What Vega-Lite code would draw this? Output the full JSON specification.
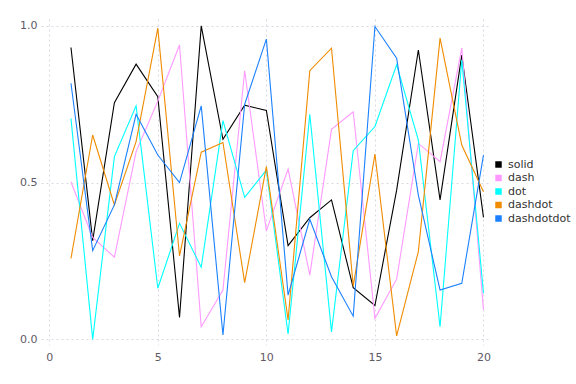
{
  "$schema": "https://vega.github.io/schema/vega-lite/v6.json",
  "width": 449,
  "height": 326,
  "autosize": {"type": "none"},
  "padding": {"left": 41, "top": 19, "right": 86, "bottom": 39},
  "background": "white",
  "config": {
    "view": {"stroke": null},
    "font": "DejaVu Sans",
    "axis": {
      "domain": false,
      "ticks": false,
      "grid": true,
      "gridColor": "#d9d9e3",
      "gridDash": [2, 3],
      "gridWidth": 1,
      "labelColor": "#5f5a66",
      "labelFont": "DejaVu Sans",
      "labelFontSize": 11,
      "title": null
    },
    "legend": {
      "labelFont": "DejaVu Sans",
      "labelFontSize": 11,
      "labelColor": "#333333",
      "symbolType": "square",
      "symbolSize": 42,
      "labelOffset": 4,
      "rowPadding": 1.5
    }
  },
  "data": {
    "values": [
      {"x": 1, "series": "solid", "y": 0.931},
      {"x": 2, "series": "solid", "y": 0.315},
      {"x": 3, "series": "solid", "y": 0.755},
      {"x": 4, "series": "solid", "y": 0.878},
      {"x": 5, "series": "solid", "y": 0.774},
      {"x": 6, "series": "solid", "y": 0.070},
      {"x": 7, "series": "solid", "y": 1.0},
      {"x": 8, "series": "solid", "y": 0.638},
      {"x": 9, "series": "solid", "y": 0.747},
      {"x": 10, "series": "solid", "y": 0.730},
      {"x": 11, "series": "solid", "y": 0.299},
      {"x": 12, "series": "solid", "y": 0.388},
      {"x": 13, "series": "solid", "y": 0.445},
      {"x": 14, "series": "solid", "y": 0.165},
      {"x": 15, "series": "solid", "y": 0.108},
      {"x": 16, "series": "solid", "y": 0.476},
      {"x": 17, "series": "solid", "y": 0.923},
      {"x": 18, "series": "solid", "y": 0.445},
      {"x": 19, "series": "solid", "y": 0.907},
      {"x": 20, "series": "solid", "y": 0.389},
      {"x": 1, "series": "dash", "y": 0.502},
      {"x": 2, "series": "dash", "y": 0.325},
      {"x": 3, "series": "dash", "y": 0.262},
      {"x": 4, "series": "dash", "y": 0.599},
      {"x": 5, "series": "dash", "y": 0.76},
      {"x": 6, "series": "dash", "y": 0.939},
      {"x": 7, "series": "dash", "y": 0.040},
      {"x": 8, "series": "dash", "y": 0.157},
      {"x": 9, "series": "dash", "y": 0.857},
      {"x": 10, "series": "dash", "y": 0.346},
      {"x": 11, "series": "dash", "y": 0.543},
      {"x": 12, "series": "dash", "y": 0.205},
      {"x": 13, "series": "dash", "y": 0.670},
      {"x": 14, "series": "dash", "y": 0.726},
      {"x": 15, "series": "dash", "y": 0.067},
      {"x": 16, "series": "dash", "y": 0.192},
      {"x": 17, "series": "dash", "y": 0.625},
      {"x": 18, "series": "dash", "y": 0.567},
      {"x": 19, "series": "dash", "y": 0.929},
      {"x": 20, "series": "dash", "y": 0.094},
      {"x": 1, "series": "dot", "y": 0.705},
      {"x": 2, "series": "dot", "y": 0.0},
      {"x": 3, "series": "dot", "y": 0.583},
      {"x": 4, "series": "dot", "y": 0.745},
      {"x": 5, "series": "dot", "y": 0.163},
      {"x": 6, "series": "dot", "y": 0.370},
      {"x": 7, "series": "dot", "y": 0.230},
      {"x": 8, "series": "dot", "y": 0.698},
      {"x": 9, "series": "dot", "y": 0.453},
      {"x": 10, "series": "dot", "y": 0.540},
      {"x": 11, "series": "dot", "y": 0.017},
      {"x": 12, "series": "dot", "y": 0.718},
      {"x": 13, "series": "dot", "y": 0.024},
      {"x": 14, "series": "dot", "y": 0.602},
      {"x": 15, "series": "dot", "y": 0.679},
      {"x": 16, "series": "dot", "y": 0.876},
      {"x": 17, "series": "dot", "y": 0.636},
      {"x": 18, "series": "dot", "y": 0.040},
      {"x": 19, "series": "dot", "y": 0.891},
      {"x": 20, "series": "dot", "y": 0.147},
      {"x": 1, "series": "dashdot", "y": 0.258},
      {"x": 2, "series": "dashdot", "y": 0.652},
      {"x": 3, "series": "dashdot", "y": 0.429},
      {"x": 4, "series": "dashdot", "y": 0.631},
      {"x": 5, "series": "dashdot", "y": 0.993},
      {"x": 6, "series": "dashdot", "y": 0.266},
      {"x": 7, "series": "dashdot", "y": 0.597},
      {"x": 8, "series": "dashdot", "y": 0.628},
      {"x": 9, "series": "dashdot", "y": 0.181},
      {"x": 10, "series": "dashdot", "y": 0.551},
      {"x": 11, "series": "dashdot", "y": 0.062},
      {"x": 12, "series": "dashdot", "y": 0.857},
      {"x": 13, "series": "dashdot", "y": 0.929},
      {"x": 14, "series": "dashdot", "y": 0.170},
      {"x": 15, "series": "dashdot", "y": 0.591},
      {"x": 16, "series": "dashdot", "y": 0.011},
      {"x": 17, "series": "dashdot", "y": 0.280},
      {"x": 18, "series": "dashdot", "y": 0.961},
      {"x": 19, "series": "dashdot", "y": 0.620},
      {"x": 20, "series": "dashdot", "y": 0.471},
      {"x": 1, "series": "dashdotdot", "y": 0.817},
      {"x": 2, "series": "dashdotdot", "y": 0.283},
      {"x": 3, "series": "dashdotdot", "y": 0.429},
      {"x": 4, "series": "dashdotdot", "y": 0.718},
      {"x": 5, "series": "dashdotdot", "y": 0.588},
      {"x": 6, "series": "dashdotdot", "y": 0.500},
      {"x": 7, "series": "dashdotdot", "y": 0.745},
      {"x": 8, "series": "dashdotdot", "y": 0.014},
      {"x": 9, "series": "dashdotdot", "y": 0.75},
      {"x": 10, "series": "dashdotdot", "y": 0.958},
      {"x": 11, "series": "dashdotdot", "y": 0.141},
      {"x": 12, "series": "dashdotdot", "y": 0.383},
      {"x": 13, "series": "dashdotdot", "y": 0.200},
      {"x": 14, "series": "dashdotdot", "y": 0.074},
      {"x": 15, "series": "dashdotdot", "y": 0.998},
      {"x": 16, "series": "dashdotdot", "y": 0.897},
      {"x": 17, "series": "dashdotdot", "y": 0.46},
      {"x": 18, "series": "dashdotdot", "y": 0.157},
      {"x": 19, "series": "dashdotdot", "y": 0.179},
      {"x": 20, "series": "dashdotdot", "y": 0.588}
    ]
  },
  "mark": {"type": "line", "strokeWidth": 1.1},
  "encoding": {
    "x": {
      "field": "x",
      "type": "quantitative",
      "scale": {"domain": [-0.38, 20.3], "nice": false, "zero": false},
      "axis": {"values": [0, 5, 10, 15, 20], "labelPadding": 6, "format": "d"}
    },
    "y": {
      "field": "y",
      "type": "quantitative",
      "scale": {"domain": [-0.018, 1.022], "nice": false, "zero": false},
      "axis": {"values": [0, 0.5, 1], "format": ".1f", "labelPadding": 4}
    },
    "color": {
      "field": "series",
      "type": "nominal",
      "sort": ["solid", "dash", "dot", "dashdot", "dashdotdot"],
      "scale": {
        "domain": ["solid", "dash", "dot", "dashdot", "dashdotdot"],
        "range": ["#000000", "#ff99ff", "#00ffff", "#f08c00", "#1a80ff"]
      },
      "legend": {
        "title": null,
        "orient": "none",
        "legendX": 452,
        "legendY": 140,
        "encode": {
          "symbols": {
            "update": {
              "fill": {"scale": "color", "field": "value"},
              "stroke": {"value": "transparent"},
              "strokeWidth": {"value": 0}
            }
          }
        }
      }
    },
    "order": {"field": "x", "type": "quantitative"}
  }
}
